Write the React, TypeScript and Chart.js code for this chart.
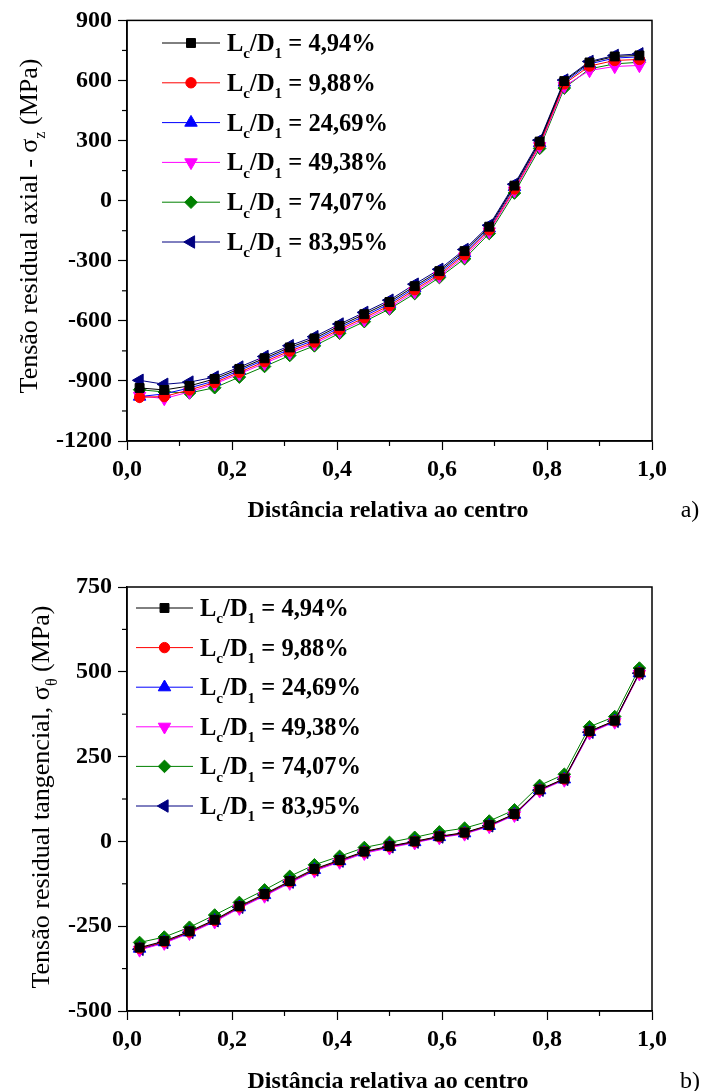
import React, { useEffect, useRef } from 'react';
import { Chart, registerables } from 'chart.js';
import { drawPoint } from 'chart.js/helpers';

Chart.register(...registerables);

const FONT = '"Liberation Serif", "Times New Roman", serif';

// relative distance to the centre (x values)
const xPos = [0.024, 0.071, 0.119, 0.167, 0.214, 0.262, 0.31, 0.357, 0.405, 0.452, 0.5, 0.548, 0.595, 0.643, 0.69, 0.738, 0.786, 0.833, 0.881, 0.929, 0.976];

const ratioLabels = ['4,94%', '9,88%', '24,69%', '49,38%', '74,07%', '83,95%'];
const colors = ['#000000', '#FF0000', '#0000FF', '#FF00FF', '#008000', '#000080'];
const pointStyles = ['rect', 'circle', 'triangle', 'triangle', 'rectRot', 'triangle'];
const rotations = [0, 0, 0, 180, 0, -90];
const radii = [6.3, 5.2, 7.2, 7.2, 6.3, 7.2];

// a) axial residual stress (MPa)
const axial_4_94 = [-935, -945, -925, -890, -840, -787, -733, -688, -625, -567, -506, -427, -352, -252, -130, 75, 295, 597, 690, 720, 725];
const axial_9_88 = [-982, -978, -945, -908, -857, -804, -751, -706, -643, -585, -524, -445, -369, -270, -146, 58, 280, 583, 672, 700, 705];
const axial_24_69 = [-978, -965, -935, -900, -848, -795, -742, -697, -634, -576, -515, -436, -360, -262, -138, 68, 288, 590, 683, 712, 718];
const axial_49_38 = [-975, -988, -955, -915, -865, -812, -760, -714, -652, -594, -533, -454, -376, -280, -154, 50, 272, 572, 650, 670, 675];
const axial_74_07 = [-944, -955, -960, -934, -881, -828, -773, -725, -662, -604, -541, -464, -384, -290, -164, 38, 261, 562, 658, 683, 691];
const axial_83_95 = [-897, -917, -906, -881, -831, -778, -724, -679, -616, -558, -497, -417, -343, -244, -123, 82, 302, 602, 695, 725, 733];

// b) tangential residual stress (MPa)
const tang_4_94 = [-313, -294, -265, -231, -191, -155, -117, -81, -55, -30, -14, 0, 15, 26, 48, 81, 153, 185, 325, 356, 498];
const tang_9_88 = [-315, -296, -267, -233, -193, -157, -119, -83, -57, -31, -15, -1, 14, 25, 47, 80, 152, 184, 324, 355, 497];
const tang_24_69 = [-316, -297, -268, -234, -194, -158, -120, -84, -58, -32, -16, -2, 13, 24, 46, 79, 151, 183, 323, 354, 496];
const tang_49_38 = [-320, -300, -271, -237, -197, -161, -123, -87, -61, -35, -19, -4, 11, 22, 44, 77, 149, 181, 320, 352, 494];
const tang_74_07 = [-298, -282, -253, -217, -180, -143, -103, -69, -44, -18, -3, 12, 28, 39, 60, 93, 165, 198, 338, 368, 511];
const tang_83_95 = [-318, -298, -268, -234, -194, -158, -120, -84, -58, -32, -16, -2, 13, 24, 46, 79, 151, 183, 322, 354, 496];

const xTickLabels = ['0,0', '0,2', '0,4', '0,6', '0,8', '1,0'];

type Part = { t: string; sub?: boolean };

function drawRich(ctx: CanvasRenderingContext2D, parts: Part[], x: number, y: number, size: number, weight: string, align: 'left' | 'center') {
  const subSize = size * 0.62;
  const fontMain = `${weight} ${size}px ${FONT}`;
  const fontSub = `${weight} ${subSize}px ${FONT}`;
  let total = 0;
  const widths = parts.map((p) => {
    ctx.font = p.sub ? fontSub : fontMain;
    const w = ctx.measureText(p.t).width;
    total += w;
    return w;
  });
  let cx = align === 'center' ? x - total / 2 : x;
  ctx.textBaseline = 'alphabetic';
  ctx.textAlign = 'left';
  parts.forEach((p, i) => {
    ctx.font = p.sub ? fontSub : fontMain;
    ctx.fillText(p.t, cx, p.sub ? y + size * 0.3 : y);
    cx += widths[i];
  });
}

const panelPlugin = {
  id: 'panel',
  afterDraw(chart: any, _args: any, opts: any) {
    const { ctx, chartArea: a } = chart;
    ctx.save();
    // frame
    ctx.strokeStyle = '#000';
    ctx.lineWidth = 1.5;
    ctx.strokeRect(a.left, a.top, a.right - a.left, a.bottom - a.top);
    // minor ticks
    ctx.lineWidth = 1.2;
    const ys = chart.scales.y;
    const yt = ys.ticks.map((t: any) => t.value);
    for (let i = 0; i < yt.length - 1; i++) {
      const py = ys.getPixelForValue((yt[i] + yt[i + 1]) / 2);
      ctx.beginPath();
      ctx.moveTo(a.left - 5, py);
      ctx.lineTo(a.left, py);
      ctx.stroke();
    }
    const xs = chart.scales.x;
    const xt = xs.ticks.map((t: any) => t.value);
    for (let i = 0; i < xt.length - 1; i++) {
      const px = xs.getPixelForValue((xt[i] + xt[i + 1]) / 2);
      ctx.beginPath();
      ctx.moveTo(px, a.bottom);
      ctx.lineTo(px, a.bottom + 5);
      ctx.stroke();
    }
    // legend
    ctx.fillStyle = '#000';
    chart.data.datasets.forEach((ds: any, i: number) => {
      const y = opts.legendY + i * opts.legendDY;
      ctx.strokeStyle = ds.borderColor;
      ctx.lineWidth = 1;
      ctx.beginPath();
      ctx.moveTo(opts.legendX0, y);
      ctx.lineTo(opts.legendX1, y);
      ctx.stroke();
      ctx.fillStyle = ds.backgroundColor;
      ctx.strokeStyle = ds.borderColor;
      drawPoint(ctx, { pointStyle: ds.pointStyle, rotation: ds.pointRotation, radius: ds.pointRadius, borderWidth: 1 }, (opts.legendX0 + opts.legendX1) / 2, y);
      ctx.fillStyle = '#000';
      drawRich(ctx, [{ t: 'L' }, { t: 'c', sub: true }, { t: '/D' }, { t: '1', sub: true }, { t: ' = ' + ds.label }], opts.legendTextX, y + 8, 24.5, 'bold', 'left');
    });
    // y title
    ctx.save();
    ctx.translate(opts.yTitleX, opts.yTitleCY);
    ctx.rotate(-Math.PI / 2);
    drawRich(ctx, opts.yTitle, 0, 9, 26, 'normal', 'center');
    ctx.restore();
    // x title
    drawRich(ctx, [{ t: 'Distância relativa ao centro' }], opts.xTitleX, opts.xTitleY + 8, 24, 'bold', 'center');
    // panel letter
    drawRich(ctx, [{ t: opts.letter }], 690, opts.xTitleY + 8, 24, 'normal', 'center');
    ctx.restore();
  },
};

function makeConfig(series: number[][], yMin: number, yMax: number, yStep: number, layout: any, plug: any): any {
  return {
    type: 'line',
    data: {
      datasets: series.map((s, i) => ({
        label: ratioLabels[i],
        data: s.map((v, k) => ({ x: xPos[k], y: v })),
        borderColor: colors[i],
        backgroundColor: colors[i],
        borderWidth: 1,
        pointStyle: pointStyles[i],
        pointRotation: rotations[i],
        pointRadius: radii[i],
        pointBorderWidth: 1,
        pointBackgroundColor: colors[i],
        pointBorderColor: colors[i],
        tension: 0,
      })),
    },
    options: {
      responsive: false,
      animation: false,
      devicePixelRatio: 1,
      layout: { padding: { left: 0, right: layout.right, top: layout.top, bottom: 0 } },
      plugins: {
        legend: { display: false },
        tooltip: { enabled: false },
        panel: plug,
      },
      scales: {
        x: {
          type: 'linear',
          min: 0,
          max: 1,
          afterFit: (s: any) => { s.height = layout.xHeight; },
          ticks: {
            stepSize: 0.2,
            padding: 5,
            color: '#000',
            font: { family: FONT, size: 24, weight: 'bold' },
            callback: (v: number) => xTickLabels[Math.round(v * 5)],
          },
          grid: { drawOnChartArea: false, drawTicks: true, tickLength: 9, tickColor: '#000', tickWidth: 1.2 },
          border: { display: true, color: '#000', width: 1.5 },
        },
        y: {
          type: 'linear',
          min: yMin,
          max: yMax,
          afterFit: (s: any) => { s.width = 127; },
          ticks: {
            stepSize: yStep,
            padding: 6,
            color: '#000',
            font: { family: FONT, size: 24, weight: 'bold' },
            callback: (v: number) => String(v),
          },
          grid: { drawOnChartArea: false, drawTicks: true, tickLength: 9, tickColor: '#000', tickWidth: 1.2 },
          border: { display: true, color: '#000', width: 1.5 },
        },
      },
    },
    plugins: [panelPlugin],
  };
}

export default function App() {
  const r1 = useRef<HTMLCanvasElement>(null);
  const r2 = useRef<HTMLCanvasElement>(null);
  useEffect(() => {
    const c1 = new Chart(
      r1.current as HTMLCanvasElement,
      makeConfig(
        [axial_4_94, axial_9_88, axial_24_69, axial_49_38, axial_74_07, axial_83_95],
        -1200, 900, 300,
        { right: 58, top: 18, xHeight: 104 },
        {
          legendY: 43, legendDY: 39.8, legendX0: 162, legendX1: 220, legendTextX: 227,
          yTitle: [{ t: 'Tensão residual axial - σ' }, { t: 'z', sub: true }, { t: ' (MPa)' }],
          yTitleX: 28, yTitleCY: 226, xTitleX: 388, xTitleY: 509, letter: 'a)',
        }
      )
    );
    const c2 = new Chart(
      r2.current as HTMLCanvasElement,
      makeConfig(
        [tang_4_94, tang_9_88, tang_24_69, tang_49_38, tang_74_07, tang_83_95],
        -500, 750, 250,
        { right: 58, top: 42, xHeight: 80 },
        {
          legendY: 63, legendDY: 39.6, legendX0: 136, legendX1: 193, legendTextX: 200,
          yTitle: [{ t: 'Tensão residual tangencial, σ' }, { t: 'θ', sub: true }, { t: ' (MPa)' }],
          yTitleX: 40, yTitleCY: 252, xTitleX: 388, xTitleY: 535, letter: 'b)',
        }
      )
    );
    return () => {
      c1.destroy();
      c2.destroy();
    };
  }, []);
  return (
    <div style={{ position: 'absolute', left: 0, top: 0, width: 710, height: 1091, background: '#fff' }}>
      <canvas ref={r1} width={710} height={545} style={{ position: 'absolute', left: 0, top: 0 }} />
      <canvas ref={r2} width={710} height={546} style={{ position: 'absolute', left: 0, top: 545 }} />
    </div>
  );
}
